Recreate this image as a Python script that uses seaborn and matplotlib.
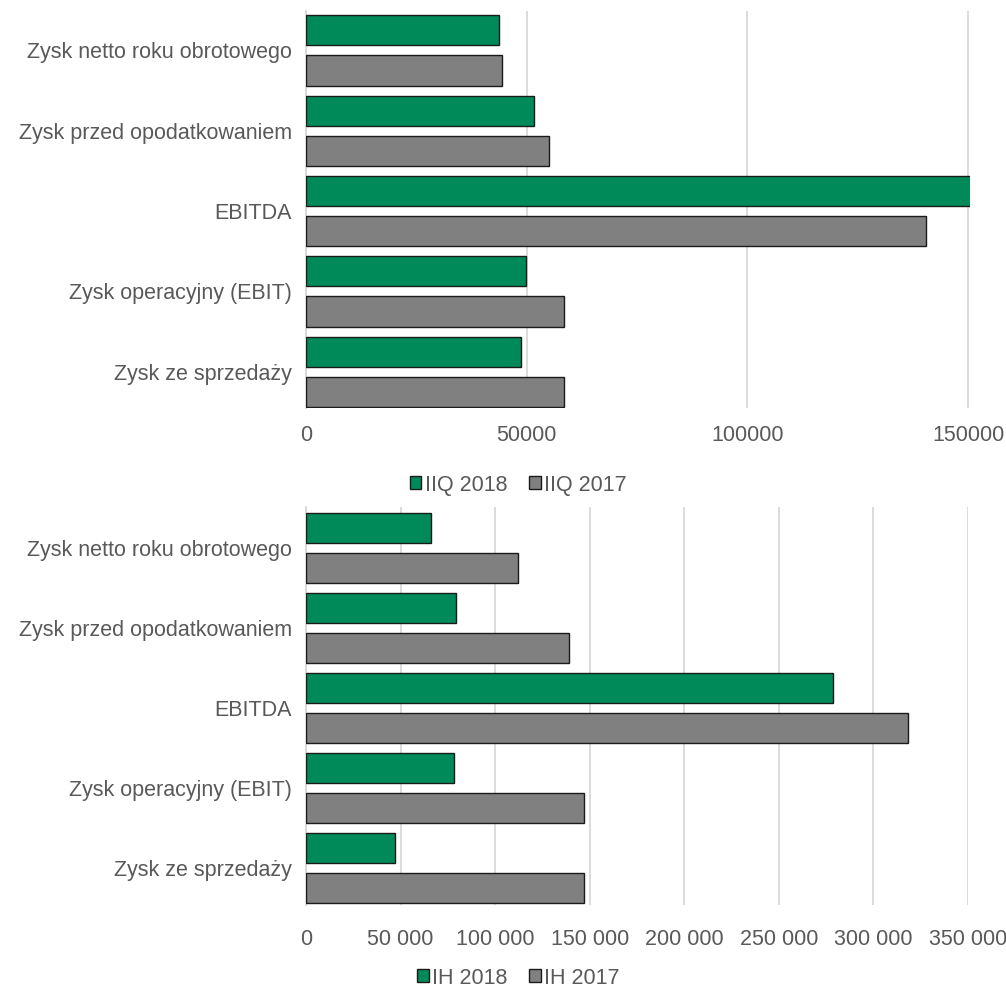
import pandas as pd
import seaborn as sns
import matplotlib.pyplot as plt
from matplotlib.patches import Patch
from matplotlib.ticker import FuncFormatter, MultipleLocator

categories = ['Zysk netto roku obrotowego', 'Zysk przed opodatkowaniem',
              'EBITDA', 'Zysk operacyjny (EBIT)', 'Zysk ze sprzedaży']

# top chart (quarter)
q_labels = ['IIQ 2018', 'IIQ 2017']
q_2018 = [43700, 51700, 152000, 49900, 48800]
q_2017 = [44400, 55000, 140500, 58400, 58400]

# bottom chart (half year)
h_labels = ['IH 2018', 'IH 2017']
h_2018 = [66200, 79400, 278400, 78000, 46900]
h_2017 = [112000, 139200, 318300, 147200, 147000]

GREEN = '#008A5A'
GREY = '#808080'
TEXT = '#595959'
GRID = '#D9D9D9'
FS = 15.5

sns.set_theme(style='white')
plt.rcParams['font.family'] = ['Liberation Sans', 'DejaVu Sans']

fig = plt.figure(figsize=(10.06, 9.9), dpi=100)
ax_top = fig.add_axes([306 / 1006, 1 - 408 / 990, 664 / 1006, 397 / 990])
ax_bot = fig.add_axes([306 / 1006, 1 - 905 / 990, 662 / 1006, 398 / 990])


def draw(ax, labels, v1, v2, xmax, step, fmt, ylim, xpad):
    df = pd.DataFrame({
        'category': categories * 2,
        'value': v1 + v2,
        'period': [labels[0]] * len(v1) + [labels[1]] * len(v2),
    })
    sns.barplot(data=df, y='category', x='value', hue='period',
                order=categories, hue_order=labels,
                palette=[GREEN, GREY], orient='h', width=1.0, gap=0.25,
                edgecolor='#1a1a1a', linewidth=1.0, saturation=1,
                legend=False, ax=ax, zorder=3)
    ax.set_xlim(0, xmax)
    ax.set_ylim(*ylim)
    ax.xaxis.set_major_locator(MultipleLocator(step))
    ax.xaxis.set_major_formatter(FuncFormatter(fmt))
    ax.grid(axis='x', color=GRID, linewidth=1.3, zorder=0)
    ax.set_axisbelow(True)
    for side in ['top', 'right', 'bottom']:
        ax.spines[side].set_visible(False)
    ax.spines['left'].set_color(GRID)
    ax.spines['left'].set_linewidth(1.3)
    ax.set_xlabel('')
    ax.set_ylabel('')
    ax.tick_params(axis='y', length=0, pad=10, labelsize=FS, labelcolor=TEXT)
    ax.tick_params(axis='x', length=0, pad=xpad, labelsize=FS, labelcolor=TEXT)
    for b in ax.patches:
        b.set_clip_on(True)


draw(ax_top, q_labels, q_2018, q_2017, 150400, 50000,
     lambda v, p: '{:d}'.format(int(v)), (4.45, -0.49), 12)
draw(ax_bot, h_labels, h_2018, h_2017, 350000, 50000,
     lambda v, p: '{:,d}'.format(int(v)).replace(',', ' '), (4.46, -0.51), 17)


def legend(labels, y):
    handles = [Patch(facecolor=GREEN, edgecolor='#1a1a1a', linewidth=1.0),
               Patch(facecolor=GREY, edgecolor='#1a1a1a', linewidth=1.0)]
    fig.legend(handles, labels, loc='center', bbox_to_anchor=(518 / 1006, 1 - y / 990),
               ncol=2, frameon=False, fontsize=FS, labelcolor=TEXT,
               handlelength=0.55, handleheight=0.55, handletextpad=0.15,
               columnspacing=1.0)


legend(q_labels, 485)
legend(h_labels, 978)

fig.savefig('out.png', dpi=100)
